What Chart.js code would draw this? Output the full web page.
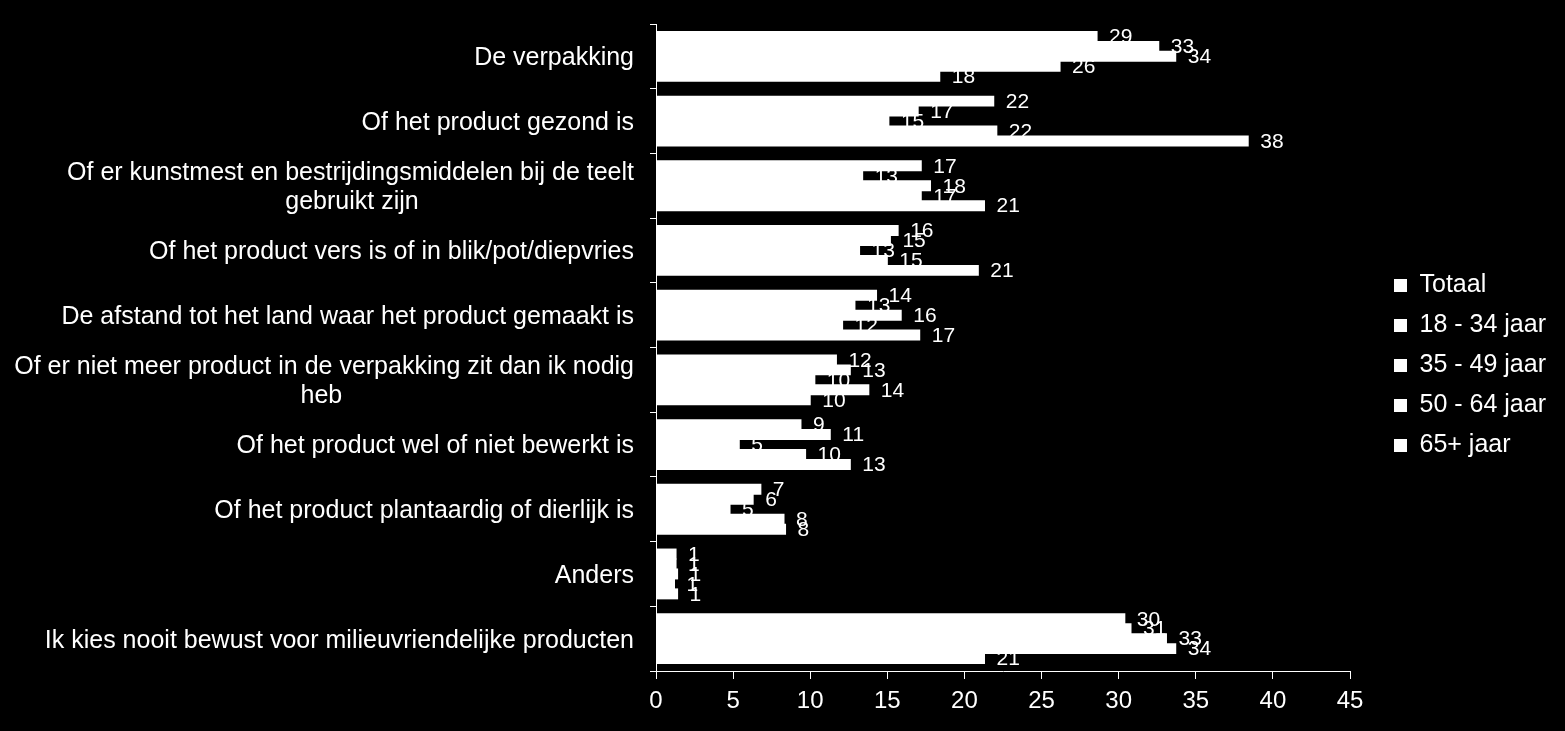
<!DOCTYPE html>
<html>
<head>
<meta charset="utf-8">
<script src="https://cdn.jsdelivr.net/npm/chart.js@4"></script>
<style>
  body { margin: 0; background: #000; }
  #wrap { width: 1565px; height: 731px; }
</style>
</head>
<body>
<div id="wrap"><canvas id="chart" width="1565" height="731"></canvas></div>
<script>
// categories (top to bottom)
const categories = [
    'De verpakking',
    'Of het product gezond is',
    ['Of er kunstmest en bestrijdingsmiddelen bij de teelt', 'gebruikt zijn'],
    'Of het product vers is of in blik/pot/diepvries',
    'De afstand tot het land waar het product gemaakt is',
    ['Of er niet meer product in de verpakking zit dan ik nodig', 'heb'],
    'Of het product wel of niet bewerkt is',
    'Of het product plantaardig of dierlijk is',
    'Anders',
    'Ik kies nooit bewust voor milieuvriendelijke producten'
];

const seriesNames = ['Totaal', '18 - 34 jaar', '35 - 49 jaar', '50 - 64 jaar', '65+ jaar'];

// percentages
const totaal  = [28.6, 21.9, 17.2, 15.7, 14.3, 11.7, 9.4, 6.8, 1.3, 30.4];
const j18_34  = [32.6, 17.0, 13.4, 15.2, 12.9, 12.6, 11.3, 6.3, 1.3, 30.8];
const j35_49  = [33.7, 15.1, 17.8, 13.2, 15.9, 10.3, 5.4, 4.8, 1.4, 33.1];
const j50_64  = [26.2, 22.1, 17.2, 15.0, 12.1, 13.8, 9.7, 8.3, 1.2, 33.7];
const j65plus = [18.4, 38.4, 21.3, 20.9, 17.1, 10.0, 12.6, 8.4, 1.4, 21.3];

const xTicks = [0, 5, 10, 15, 20, 25, 30, 35, 40, 45];

const FONT = "'Liberation Sans', Arial, sans-serif";
const catFont = { family: FONT, size: 25, lineHeight: 1.16 };

// pad the shorter lines of a wrapped label so the lines look centred
function centerLines(label) {
    if (!Array.isArray(label)) return label;
    const c = document.createElement('canvas').getContext('2d');
    c.font = catFont.size + 'px ' + FONT;
    const widest = Math.max(...label.map(l => c.measureText(l).width));
    const space = c.measureText(' ').width;
    return label.map(l => l + ' '.repeat(Math.round((widest - c.measureText(l).width) / 2 / space)));
}

// value labels right of each bar
const barValueLabels = {
    id: 'barValueLabels',
    afterDatasetsDraw(chart) {
        const ctx = chart.ctx;
        ctx.save();
        ctx.fillStyle = '#fff';
        ctx.font = '21px ' + FONT;
        ctx.textAlign = 'left';
        ctx.textBaseline = 'middle';
        chart.data.datasets.forEach((ds, i) => {
            chart.getDatasetMeta(i).data.forEach((bar, j) => {
                ctx.fillText(String(Math.round(ds.data[j])), bar.x + 12, bar.y + 1);
            });
        });
        ctx.restore();
    }
};

// fixed legend width, then move it a bit away from the plot
const legendNudge = {
    id: 'legendNudge',
    afterInit(chart) {
        const lg = chart.legend;
        const fit = lg.fit;
        lg.fit = function () { fit.call(this); this.width = 215; };
    },
    afterLayout(chart) {
        const lg = chart.legend;
        lg.left += 29; lg.right += 29;
        lg.top -= 12; lg.bottom -= 12;
    }
};

const allSeries = [totaal, j18_34, j35_49, j50_64, j65plus];

new Chart(document.getElementById('chart'), {
    type: 'bar',
    data: {
        labels: categories,
        datasets: allSeries.map((d, i) => ({
            label: seriesNames[i],
            data: d,
            backgroundColor: '#fff',
            borderWidth: 0,
            inflateAmount: 0.5,
            categoryPercentage: 0.77,
            barPercentage: 1.0
        }))
    },
    options: {
        indexAxis: 'y',
        responsive: false,
        animation: false,
        layout: { padding: { left: 10, top: 24, right: 0, bottom: 0 } },
        plugins: {
            legend: {
                position: 'right',
                labels: {
                    color: '#fff',
                    font: { family: FONT, size: 25 },
                    boxWidth: 13,
                    boxHeight: 13,
                    padding: 15
                }
            },
            tooltip: { enabled: false }
        },
        scales: {
            x: {
                min: 0,
                max: 45,
                afterBuildTicks: (scale) => { scale.ticks = xTicks.map(v => ({ value: v })); },
                afterFit: (scale) => { scale.height = 60; scale.paddingLeft = 0; scale.paddingRight = 0; },
                border: { color: '#fff', width: 1 },
                grid: { drawOnChartArea: false, drawTicks: true, tickLength: 8, color: '#fff' },
                ticks: { color: '#fff', font: { family: FONT, size: 24 }, padding: 8, maxRotation: 0 }
            },
            y: {
                afterFit: (scale) => { scale.width = 646; scale.paddingTop = 0; scale.paddingBottom = 0; },
                border: { color: '#fff', width: 1 },
                grid: { drawOnChartArea: false, drawTicks: true, tickLength: 6, color: '#fff', offset: true },
                ticks: {
                    color: '#fff',
                    font: catFont,
                    padding: 16,
                    labelOffset: 2,
                    autoSkip: false,
                    callback: function (value) { return centerLines(categories[value]); }
                }
            }
        }
    },
    plugins: [barValueLabels, legendNudge]
});
</script>
</body>
</html>
